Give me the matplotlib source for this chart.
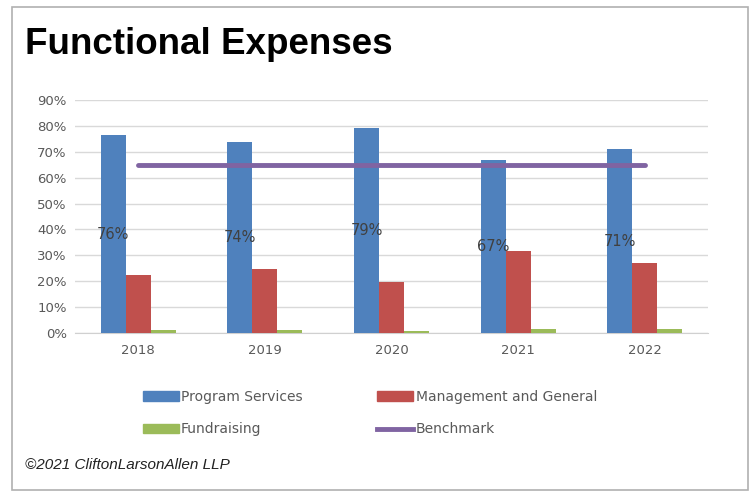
import numpy as np
import matplotlib
matplotlib.use("Agg")
import matplotlib.pyplot as plt
from matplotlib.patches import Rectangle, Patch
from matplotlib.lines import Line2D
from matplotlib.ticker import MultipleLocator, FuncFormatter

years = ["2018", "2019", "2020", "2021", "2022"]
program = [76.3, 73.9, 79.0, 66.7, 71.0]
management = [22.4, 24.8, 19.7, 31.7, 27.1]
fundraising = [1.1, 1.1, 0.8, 1.5, 1.4]
benchmark = [65, 65, 65, 65, 65]
labels = ["76%", "74%", "79%", "67%", "71%"]

blue = "#4f81bd"
red = "#c0504d"
green = "#9bbb59"
purple = "#8064a2"

fig = plt.figure(figsize=(7.52, 4.97), dpi=100)

# outer frame
fig.patches.append(Rectangle((12/752, 7/497), 736/752, 483/497, transform=fig.transFigure,
                             fill=False, edgecolor="#b0b0b0", linewidth=1.2))

fig.text(25/752, 1 - 45/497, "Functional Expenses", fontsize=26.5, fontweight="bold",
         family="Liberation Sans", va="center", ha="left", color="black")
fig.text(25/752, 1 - 465/497, "\u00a92021 CliftonLarsonAllen LLP", fontsize=11,
         style="italic", family="Liberation Sans", va="center", ha="left", color="#222222")

ax = fig.add_axes([75/752, 1 - 333/497, 633/752, 233/497])
x = np.arange(len(years))
w = 0.197
ax.bar(x - w, program, w, color=blue, zorder=3)
ax.bar(x, management, w, color=red, zorder=3)
ax.bar(x + w, fundraising, w, color=green, zorder=3)
ax.plot(x, benchmark, color=purple, linewidth=3.5, solid_capstyle="round", zorder=4)

for xi, v, lab in zip(x, program, labels):
    ax.text(xi - w, v / 2, lab, ha="center", va="center", fontsize=10.5,
            color="#404040", family="DejaVu Sans", zorder=5)

ax.set_xlim(-0.5, len(years) - 0.5)
ax.set_ylim(0, 90)
ax.yaxis.set_major_locator(MultipleLocator(10))
ax.yaxis.set_major_formatter(FuncFormatter(lambda v, p: "%d%%" % v))
ax.set_xticks(x)
ax.set_xticklabels(years)
ax.grid(axis="y", color="#d9d9d9", linewidth=1, zorder=0)
for s in ["top", "left", "right"]:
    ax.spines[s].set_visible(False)
ax.spines["bottom"].set_color("#d0d0d0")
ax.tick_params(axis="both", length=0, labelsize=9.5, labelcolor="#595959", pad=8)
ax.tick_params(axis="y", pad=6)

handles = [Patch(color=blue), Patch(color=red), Patch(color=green),
           Line2D([0], [0], color=purple, linewidth=3.5)]
names = ["Program Services", "Management and General", "Fundraising", "Benchmark"]
order = [0, 2, 1, 3]
leg = fig.legend([handles[i] for i in order], [names[i] for i in order], ncol=2,
                 loc="center left", bbox_to_anchor=(130/752, 1 - 413/497),
                 frameon=False, fontsize=10, handlelength=2.6, handletextpad=0.15,
                 columnspacing=5.4, labelspacing=1.35)
for t in leg.get_texts():
    t.set_color("#595959")

fig.savefig("out.png", dpi=100)
